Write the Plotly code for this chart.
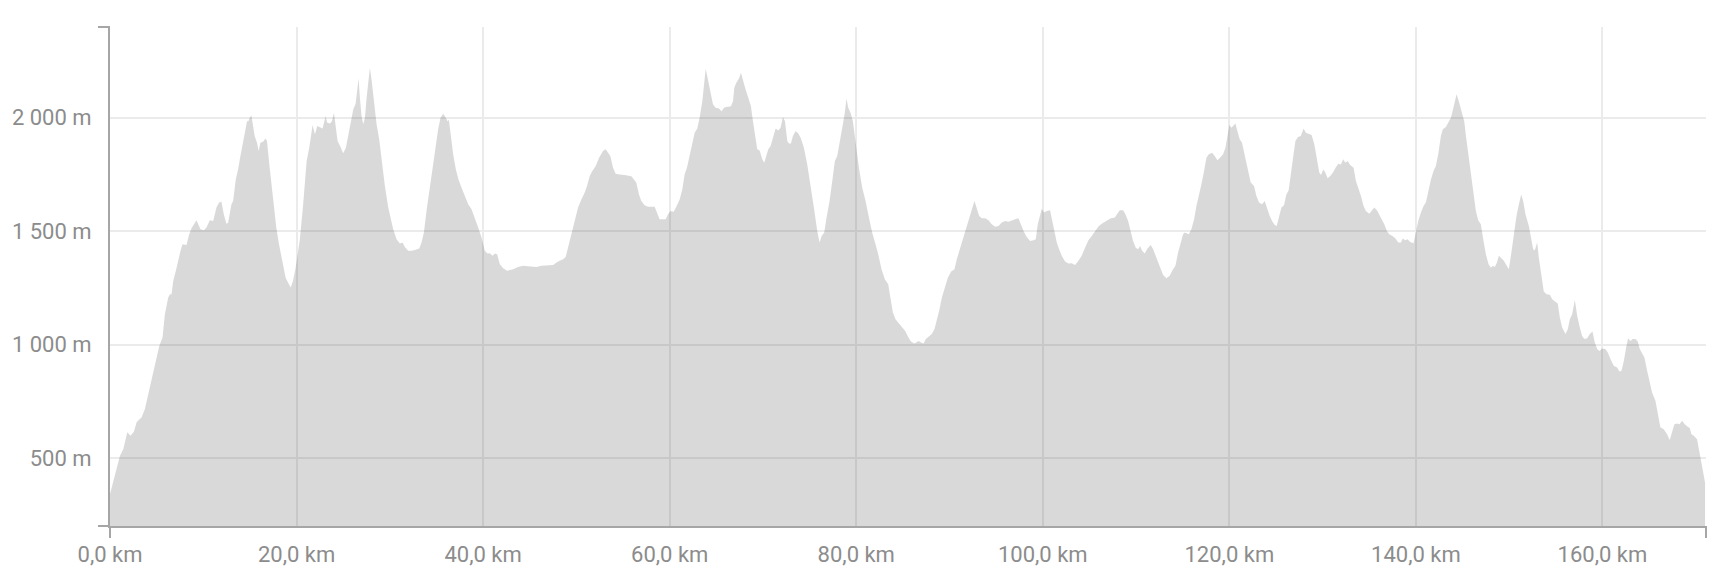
import plotly.graph_objects as go

# Elevation profile (distance in km, elevation in m)
distance_km = [
    0, 0.36, 0.71, 1.07, 1.43, 1.85, 2.21, 2.57, 2.85, 3.39, 3.74, 4.28, 4.81, 5.28, 5.63, 5.88,
    6.24, 6.42, 6.6, 6.78, 7.06, 7.31, 7.56, 7.77, 8.2, 8.49, 8.74, 9.27, 9.7, 10.06, 10.34, 10.7,
    11.06, 11.41, 11.7, 11.95, 12.2, 12.48, 12.66, 13.02, 13.2, 13.48, 13.73, 13.98, 14.27, 14.55,
    14.69, 14.84, 14.98, 15.16, 15.34, 15.51, 15.76, 15.94, 16.12, 16.41, 16.66, 16.83, 17.12, 17.48,
    17.83, 18.12, 18.47, 18.83, 19.08, 19.37, 19.62, 19.9, 20.33, 20.68,
    21.08, 21.36, 21.72, 21.97, 22.22, 22.5, 22.79, 23.11, 23.29, 23.58, 23.79, 24.01, 24.18, 24.4,
    24.72, 25.0, 25.29, 25.54, 25.79, 26.08, 26.33, 26.54, 26.65, 26.79, 26.97, 27.15, 27.33, 27.51,
    27.72, 27.86, 28.04, 28.29, 28.58, 28.86, 29.11, 29.47, 29.83, 30.08, 30.36, 30.72, 31.08, 31.36,
    31.61, 31.97, 32.33, 32.68, 33.15, 33.4, 33.65, 33.93, 34.29, 34.65, 34.93, 35.18, 35.43, 35.72,
    36.0, 36.18, 36.33, 36.51, 36.79, 37.08, 37.36, 37.68, 38.04, 38.4, 38.76, 39.11, 39.47, 39.83,
    40.18, 40.47, 40.72, 41.01, 41.26, 41.51, 41.79, 42.15, 42.58,
    43.21, 43.75, 44.28, 45.0, 45.71, 46.25, 46.78, 47.5, 48.03, 48.57, 48.85, 49.1, 49.46, 49.82,
    50.18, 50.53, 50.89, 51.14, 51.43, 51.71, 52.07, 52.43, 52.85, 53.14, 53.39, 53.64, 53.93, 54.21,
    54.64, 55.18, 55.89, 56.14, 56.42, 56.71, 56.96, 57.32, 57.68, 58.39, 58.64, 58.92, 59.57, 59.82,
    60.1, 60.43, 60.71, 61.07, 61.35, 61.6, 61.85, 62.07, 62.32, 62.68, 62.96, 63.21, 63.5, 63.75,
    63.86, 64.14, 64.39, 64.64, 64.93, 65.29, 65.57, 65.82, 66.07, 66.36, 66.57, 66.79, 66.93, 67.14,
    67.43, 67.64, 67.86, 68.14, 68.43, 68.71, 68.93, 69.14, 69.39, 69.64, 69.93, 70.14, 70.36, 70.57,
    70.82, 71.07, 71.36, 71.64, 71.89, 72.14, 72.36, 72.61, 72.79, 73.0, 73.21, 73.5, 73.79, 74.04,
    74.39, 74.75, 75.11, 75.46, 75.82, 76.07, 76.29, 76.57, 76.82, 77.14, 77.43, 77.71, 77.96, 78.21,
    78.5, 78.75, 78.96, 79.14, 79.39, 79.64, 79.93, 80.29, 80.64, 81.0, 81.36, 81.71, 82.07, 82.36,
    82.71, 83.07, 83.43, 83.68, 83.93, 84.21, 84.75,
    85.25, 85.6, 85.89, 86.25, 86.68, 86.96, 87.21, 87.46, 87.75, 88.1, 88.39, 88.64, 88.89, 89.18,
    89.46, 89.82, 90.18, 90.53, 90.78, 91.14, 91.5, 91.85, 92.21, 92.46, 92.68, 92.93, 93.18, 93.46,
    93.82, 94.18, 94.53, 94.89, 95.25, 95.6, 95.96, 96.32, 96.68, 97.03, 97.39, 97.68, 97.96, 98.28,
    98.64, 99.0, 99.25, 99.46, 99.68, 99.89, 100.14, 100.43, 100.78, 101.03, 101.25, 101.5, 101.75,
    102.03, 102.39, 102.75, 103.1, 103.46, 103.82, 104.17, 104.53, 104.89, 105.25, 105.6, 105.96, 106.32,
    106.83, 107.29, 107.72, 108.0, 108.25, 108.61, 108.86, 109.15, 109.43, 109.68, 109.97, 110.22,
    110.43, 110.65, 110.93, 111.22, 111.58, 111.83, 112.18, 112.54, 112.9, 113.25, 113.61, 113.9,
    114.22, 114.5, 114.79, 115.04, 115.22, 115.65, 115.93, 116.22, 116.47, 116.75, 117.0, 117.29,
    117.54, 117.79, 118.15, 118.43, 118.72, 119.0, 119.33, 119.58, 119.79, 120.0, 120.22, 120.43,
    120.65, 120.86, 121.11, 121.36, 121.58, 121.83, 122.08, 122.29, 122.65, 122.9, 123.18, 123.5,
    123.79, 124.08, 124.33, 124.58, 124.86, 125.08, 125.29, 125.58, 125.86, 126.11, 126.36, 126.57,
    126.83, 127.08, 127.36, 127.65,
    127.96, 128.21, 128.57, 128.82, 129.11, 129.39, 129.64, 129.82, 130.07, 130.29, 130.54, 130.82,
    131.11, 131.39, 131.68, 131.96, 132.21, 132.43, 132.68, 132.96, 133.32, 133.57, 133.82, 134.11,
    134.39, 134.64, 135.0, 135.25, 135.54, 135.82, 136.07, 136.32, 136.61, 136.89, 137.14, 137.5,
    137.79, 138.11, 138.39, 138.61, 138.82, 139.11, 139.39, 139.75, 140.0, 140.25, 140.54, 140.82,
    141.07, 141.32, 141.61, 141.89, 142.14, 142.39, 142.68, 142.89, 143.21, 143.46, 143.75, 143.93,
    144.18, 144.36, 144.54, 144.75, 145.0, 145.18, 145.39, 145.61, 145.89, 146.18, 146.43, 146.68,
    146.96, 147.25, 147.5, 147.79, 148.04, 148.25, 148.46, 148.68, 148.89,
    149.43, 149.71, 149.96, 150.21, 150.5, 150.78, 151.04, 151.29, 151.5, 151.75, 152.11, 152.36,
    152.57, 152.75, 153.0, 153.18, 153.43, 153.71, 154.0, 154.36, 154.61, 154.86, 155.21, 155.43,
    155.68, 156.04, 156.29, 156.5, 156.75, 157.04, 157.29, 157.57, 157.82, 158.07, 158.36, 158.64,
    158.93, 159.18, 159.43, 159.68, 159.96, 160.32, 160.57, 160.86, 161.21, 161.57, 161.82, 162.04,
    162.29, 162.54, 162.75, 163.0, 163.25, 163.54, 163.79, 164.0, 164.25, 164.5, 164.79, 165.07,
    165.32, 165.68, 165.93, 166.21, 166.57, 166.93, 167.21, 167.46, 167.71, 168.0, 168.25, 168.54,
    168.82, 169.14, 169.36, 169.54, 169.79, 170.14, 170.39, 170.68, 170.93, 171.0,
]

elevation_m = [
    341, 400, 459, 510, 539, 613, 598, 617, 657, 679, 716, 811, 914, 994, 1031, 1134,
    1207, 1222, 1222, 1281, 1325, 1376, 1413, 1442, 1439, 1486, 1513, 1548, 1508, 1504, 1516, 1548,
    1545, 1604, 1626, 1630, 1574, 1533, 1537, 1618, 1633, 1728, 1772, 1831, 1890, 1956,
    1985, 1985, 2000, 2010, 1956, 1919, 1890, 1853, 1890, 1894, 1908, 1897, 1780, 1648,
    1515, 1442, 1369, 1295, 1273, 1251, 1281, 1339, 1457, 1604,
    1809, 1868, 1968, 1927, 1963, 1959, 1953, 2007, 1978, 1975, 1985, 2022, 1971, 1897,
    1871, 1843, 1868, 1919, 1985, 2037, 2062, 2132, 2173, 2088, 2007, 1971, 2000, 2088,
    2176, 2220, 2169, 2073, 1971, 1905, 1809, 1699, 1604, 1560, 1508, 1464, 1445, 1450,
    1430, 1413, 1413, 1417, 1423, 1450, 1494, 1589, 1692, 1787, 1883, 1949, 2000, 2018,
    2000, 1985, 1990, 1927, 1839, 1772, 1728, 1692, 1655, 1618, 1596, 1560, 1516, 1472,
    1413, 1401, 1403, 1391, 1401, 1398, 1354, 1336, 1325,
    1332, 1342, 1347, 1344, 1342, 1347, 1348, 1351, 1366, 1376, 1386, 1427, 1486, 1552,
    1604, 1640, 1670, 1699, 1743, 1765, 1787, 1824, 1853, 1861, 1846, 1831, 1780, 1753,
    1750, 1748, 1742, 1728, 1714, 1662, 1633, 1614, 1608, 1607, 1577, 1552, 1552, 1574,
    1589, 1586, 1607, 1640, 1684, 1750, 1780, 1824, 1868, 1934, 1953, 2000, 2073, 2161,
    2216, 2161, 2110, 2059, 2044, 2041, 2029, 2044, 2047, 2051, 2051, 2073, 2132, 2154,
    2173, 2198, 2161, 2125, 2088, 2051, 1985, 1927, 1861, 1856, 1817, 1802, 1831, 1861,
    1875, 1912, 1953, 1944, 1956, 2003, 1985, 1897, 1886, 1886, 1919, 1941, 1930, 1912,
    1868, 1794, 1706, 1604, 1501, 1450, 1479, 1494, 1560, 1633, 1721, 1809, 1831, 1897,
    1956, 2015, 2085, 2044, 2022, 1985, 1890, 1780, 1692, 1633, 1560, 1494, 1442, 1398,
    1332, 1288, 1266, 1207, 1141, 1112, 1083,
    1060, 1031, 1012, 1005, 1016, 1009, 1005, 1024, 1034, 1046, 1068, 1105, 1149, 1207,
    1251, 1295, 1322, 1332, 1376, 1427, 1472, 1516, 1567, 1604, 1633, 1596, 1567, 1557,
    1557, 1548, 1530, 1519, 1523, 1538, 1545, 1541, 1545, 1552, 1557, 1523, 1498, 1474,
    1457, 1460, 1464, 1530, 1567, 1599, 1582, 1589, 1592, 1545, 1508, 1450, 1420,
    1391, 1366, 1357, 1358, 1351, 1369, 1391, 1427, 1460, 1479, 1501, 1520, 1533,
    1545, 1557, 1560, 1577, 1592, 1592, 1574, 1545, 1501, 1457, 1427, 1420,
    1435, 1413, 1401, 1423, 1439, 1420, 1383, 1347, 1307, 1292, 1303, 1328,
    1347, 1405, 1450, 1486, 1494, 1486, 1508, 1552, 1611, 1655, 1706, 1765,
    1824, 1839, 1846, 1831, 1812, 1824, 1839, 1868, 1912, 1968, 1956, 1963,
    1974, 1941, 1905, 1890, 1846, 1802, 1750, 1714, 1699, 1655, 1626, 1618,
    1633, 1596, 1567, 1545, 1527, 1523, 1560, 1604, 1614, 1662, 1680, 1736,
    1824, 1897, 1915, 1919,
    1953, 1934, 1927, 1924, 1883, 1824, 1758, 1748, 1772, 1758, 1733, 1743,
    1758, 1780, 1797, 1794, 1817, 1802, 1809, 1792, 1780, 1721, 1692, 1655,
    1611, 1589, 1577, 1592, 1604, 1592, 1574, 1557, 1530, 1501, 1486, 1479,
    1469, 1450, 1450, 1469, 1460, 1464, 1452, 1447, 1501, 1545, 1582, 1611,
    1626, 1677, 1728, 1765, 1787, 1839, 1919, 1949, 1959, 1978, 2000, 2029,
    2073, 2103, 2081, 2051, 2007, 1985, 1912, 1839, 1750, 1662, 1589, 1548,
    1530, 1457, 1398, 1354, 1339, 1347, 1342, 1361, 1391,
    1369, 1351, 1332, 1398, 1486, 1567, 1618, 1662, 1633, 1574, 1523, 1457,
    1420, 1416, 1450, 1383, 1310, 1234, 1222, 1219, 1200, 1193, 1181, 1119,
    1075, 1046, 1068, 1112, 1134, 1196, 1127, 1075, 1038, 1024, 1028, 1046,
    1058, 1009, 980, 972, 983, 980, 965, 936, 906, 899, 881, 884,
    928, 987, 1028, 1016, 1024, 1024, 1013, 980, 958, 943, 884, 826,
    789, 752, 693, 635, 627, 605, 579, 613, 649, 652, 649, 664,
    649, 638, 632, 605, 598, 583, 532, 473, 407, 390,
]

x_tick_values = [0, 20, 40, 60, 80, 100, 120, 140, 160]
x_tick_labels = ["0,0 km", "20,0 km", "40,0 km", "60,0 km", "80,0 km",
                 "100,0 km", "120,0 km", "140,0 km", "160,0 km"]
y_tick_values = [500, 1000, 1500, 2000]
y_tick_labels = ["500 m", "1 000 m", "1 500 m", "2 000 m"]

x_range = [0, 171.1]
y_range = [200, 2400]

AXIS = "#a6a6a6"
GRID = "#ebebeb"
LABEL = "#8c8c8c"

fig = go.Figure()
fig.add_trace(go.Scatter(
    x=distance_km, y=elevation_m, mode="lines",
    line=dict(width=0, color="rgba(0,0,0,0)"),
    fill="tozeroy", fillcolor="rgba(0,0,0,0.15)",
    hoverinfo="skip", showlegend=False,
))

fig.update_layout(
    width=1720, height=582,
    margin=dict(l=106, r=14, t=27, b=56),
    paper_bgcolor="white", plot_bgcolor="white",
    font=dict(family="Roboto, 'Open Sans', sans-serif", size=22, color=LABEL),
    showlegend=False,
)
fig.update_xaxes(
    range=x_range, tickvals=x_tick_values, ticktext=x_tick_labels,
    showgrid=True, gridcolor=GRID, gridwidth=1.5, zeroline=False,
    showline=True, linecolor=AXIS, linewidth=2, ticks="",
    ticklabelstandoff=8, fixedrange=True,
)
fig.update_yaxes(
    range=y_range, tickvals=y_tick_values, ticktext=y_tick_labels,
    showgrid=True, gridcolor=GRID, gridwidth=1.5, zeroline=False,
    showline=True, linecolor=AXIS, linewidth=2, ticks="",
    ticklabelstandoff=12, fixedrange=True,
)

cap = dict(type="line", xref="x domain", yref="y domain", line=dict(color=AXIS, width=2))
fig.add_shape(**cap, xsizemode="pixel", xanchor=0, x0=-12, x1=0, y0=1, y1=1)
fig.add_shape(**cap, xsizemode="pixel", xanchor=0, x0=-12, x1=0, y0=0, y1=0)
fig.add_shape(**cap, ysizemode="pixel", yanchor=0, y0=-12, y1=0, x0=0, x1=0)
fig.add_shape(**cap, ysizemode="pixel", yanchor=0, y0=-12, y1=0, x0=1, x1=1)

fig.write_html(
    "out.html",
    config={"displayModeBar": False},
    post_script="document.body.style.margin='0';document.body.style.padding='0';"
                "document.body.style.overflow='hidden';",
)
